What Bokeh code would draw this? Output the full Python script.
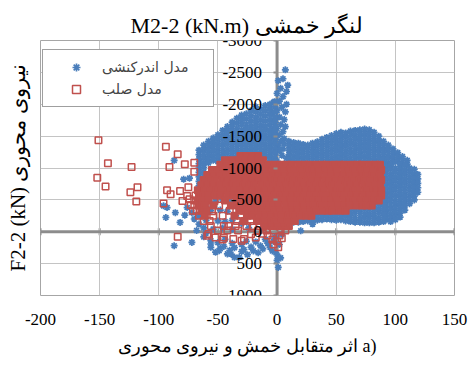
import math
from bokeh.plotting import figure
from bokeh.models import Range1d, Span, Title, Legend, LegendItem, FixedTicker, LinearAxis
from bokeh.embed import file_html
from bokeh.resources import INLINE

# ---- axis ticks -------------------------------------------------------------
x_ticks = [-200, -150, -100, -50, 0, 50, 100, 150]
x_tick_labels = ["-200", "-150", "-100", "-50", "0", "50", "100", "150"]
y_ticks = [-3000, -2500, -2000, -1500, -1000, -500, 0, 500, 1000]
y_tick_labels = ["-3000", "-2500", "-2000", "-1500", "-1000", "-500", "0", "500", "1000"]

# ---- interaction model (M2-2, F2-2) ---------------------------------------
# narrow spike of high axial force near M = 0
blue_spike = [(7, -2540), (5, -2400), (1, -2370), (9, -2300), (3, -2250), (8, -2200),
              (0, -2170), (5, -2120), (2, -2050), (8, -2000), (-3, -2030), (4, -1950),
              (0, -1900), (7, -1880), (-4, -1860), (2, -1800), (6, -1760), (-2, -1740),
              (3, -1680), (7, -1650), (0, -1620), (-4, -1600), (5, -1570), (2, -1520),
              (-1, -1480), (6, -1460), (3, -1420), (1, -1350), (5, -1300), (-1, -1250),
              (4, -1200), (8, -1150), (0, -1110), (6, -1380), (2, -1280)]

# columns (M, [F ...]) of the negative-moment upper lobe
blue_upper_left_cols = [
    (-66, [-1280, -1210, -1140, -1070, -1000, -930, -860, -790, -720]),
    (-62, [-1360, -1290, -1220, -1150, -1080, -1010, -940, -870, -800, -730]),
    (-58, [-1420, -1350, -1280, -1210, -1140, -1080]),
    (-54, [-1470, -1400, -1330, -1260, -1190, -1120]),
    (-50, [-1520, -1450, -1380, -1310, -1240, -1170, -1100]),
    (-46, [-1590, -1520, -1450, -1380, -1310, -1240, -1170, -1110]),
    (-42, [-1650, -1580, -1510, -1440, -1370, -1300, -1230, -1160]),
    (-38, [-1720, -1650, -1580, -1510, -1440, -1370, -1300, -1230, -1160]),
    (-34, [-1780, -1700, -1620, -1550, -1480, -1410, -1340, -1270, -1200]),
    (-30, [-1830, -1750, -1670, -1590, -1520, -1450, -1380, -1310, -1240, -1180]),
    (-26, [-1850, -1770, -1690, -1610, -1540, -1470, -1400, -1330, -1260, -1200]),
    (-22, [-1900, -1820, -1740, -1660, -1590, -1520, -1450, -1380, -1310, -1240]),
    (-18, [-1960, -1880, -1800, -1720, -1640, -1570, -1500, -1430, -1360, -1290, -1230]),
    (-14, [-1920, -1840, -1760, -1680, -1610, -1540, -1470, -1400, -1330, -1260, -1200]),
    (-10, [-1980, -1900, -1820, -1740, -1660, -1590, -1520, -1450, -1380, -1310, -1240,
           -1170]),
    (-6, [-2000, -1920, -1840, -1760, -1680, -1600, -1530, -1460, -1390, -1320, -1250,
          -1180, -1120]),
    (-2, [-2040, -1960, -1880, -1800, -1720, -1650, -1580, -1510, -1440, -1370, -1300,
          -1230, -1160, -1100]),
]

# columns of the positive-moment upper band
blue_upper_right_cols = [
    (10, [-1420, -1350, -1280, -1210, -1140, -1080]),
    (14, [-1400, -1330, -1260, -1190, -1120]),
    (18, [-1390, -1320, -1250, -1180, -1110]),
    (22, [-1370, -1300, -1230, -1160, -1090]),
    (26, [-1360, -1290, -1220, -1150, -1080]),
    (30, [-1390, -1320, -1250, -1180, -1110]),
    (34, [-1410, -1340, -1270, -1200, -1130, -1070]),
    (38, [-1450, -1380, -1310, -1240, -1170, -1100]),
    (42, [-1480, -1410, -1340, -1270, -1200, -1130, -1070]),
    (46, [-1510, -1440, -1370, -1300, -1230, -1160, -1090]),
    (50, [-1540, -1470, -1400, -1330, -1260, -1190, -1120]),
    (54, [-1560, -1490, -1420, -1350, -1280, -1210, -1140, -1080]),
    (58, [-1550, -1480, -1410, -1340, -1270, -1200, -1130, -1070]),
    (62, [-1580, -1510, -1440, -1370, -1300, -1230, -1160, -1090]),
    (66, [-1590, -1520, -1450, -1380, -1310, -1240, -1170, -1100]),
    (70, [-1600, -1530, -1460, -1390, -1320, -1250, -1180, -1110]),
    (74, [-1610, -1540, -1470, -1400, -1330, -1260, -1190, -1120]),
    (78, [-1600, -1530, -1460, -1390, -1320, -1250, -1180, -1110]),
    (82, [-1560, -1490, -1420, -1350, -1280, -1210, -1140, -1080]),
    (86, [-1500, -1430, -1360, -1290, -1220, -1150, -1080]),
    (90, [-1420, -1350, -1280, -1210, -1140, -1070]),
    (94, [-1360, -1290, -1220, -1150, -1080]),
    (98, [-1300, -1230, -1160, -1090]),
    (102, [-1240, -1170, -1100]),
    (106, [-1180, -1110]),
    (110, [-1120, -1060]),
]

# columns of the right-hand edge
blue_right_cols = [
    (92, [-1030, -960, -890, -820, -750, -680, -610, -540, -470, -400, -330, -260, -190]),
    (96, [-1050, -980, -910, -840, -770, -700, -630, -560, -490, -420, -350, -280, -210,
          -160]),
    (100, [-1000, -930, -860, -790, -720, -650, -580, -510, -440, -370, -300, -230, -190]),
    (104, [-1060, -990, -920, -850, -780, -710, -640, -570, -500, -430, -360, -290, -230]),
    (108, [-1040, -970, -900, -830, -760, -690, -620, -550, -480, -410, -340]),
    (112, [-1000, -930, -860, -790, -720, -650, -580, -510, -440]),
    (116, [-980, -910, -840, -770, -700, -630, -560, -500]),
    (119, [-900, -830, -760, -690, -620]),
]

# columns of the low-axial-force strip under the rigid cloud
blue_lower_cols = [
    (14, [-150, -210]), (18, [-150, -220]), (22, [-160, -230]), (26, [-170, -240]),
    (30, [-170, -240, -300]), (34, [-180, -250, -310]), (38, [-190, -260, -320]),
    (42, [-200, -270, -330]), (46, [-190, -260, -330, -390]),
    (50, [-180, -250, -320, -390]), (54, [-190, -260, -330, -400]),
    (58, [-170, -240, -310, -380, -440]), (62, [-160, -230, -300, -370, -440]),
    (66, [-150, -220, -290, -360, -430, -490]), (70, [-150, -220, -290, -360, -430, -500]),
    (74, [-140, -210, -280, -350, -420, -490]),
    (78, [-140, -210, -280, -350, -420, -490, -550]),
    (82, [-140, -210, -280, -350, -420, -490, -560]),
    (86, [-150, -220, -290, -360, -430, -500, -570]),
    (90, [-160, -230, -300, -370, -440, -510, -580]),
]

# tension side and scattered points
blue_lower_left = [(-56, 140), (-48, 260), (-39, 350), (-32, 400), (-25, 360), (-20, 300),
                   (-14, 220), (-8, 180), (-4, 300), (-56, 192), (-56, 245), (-49, 297),
                   (-42, 348), (-36, 401), (-45, 230), (-36, 250), (-30, 310), (-72, 167),
                   (-87, 219), (-62, 80), (-50, 170), (-44, 120), (-38, 180), (-30, 200),
                   (-26, 150), (-22, 240), (-16, 330), (-12, 270), (-10, 120), (-6, 240),
                   (-28, 280), (-40, 290), (-52, 320), (-18, 160), (-60, 20), (-2, 80),
                   (0, 450), (1, 560), (0.5, 380), (3, 410), (-1, 330), (2, 200), (4, 40),
                   (-3, 150), (20, -15), (30, -120)]
blue_left_mid = [(-87, -1120), (-79, -824), (-74, -840), (-96, -406), (-93, -380),
                 (-94, -224), (-82, -146), (-76, -380), (-72, -300), (-66, -250),
                 (-64, -420), (-60, -180), (-58, -320), (-66, -120), (-70, -200),
                 (-78, -260), (-86, -300), (-62, -60), (-54, -40), (-46, -60),
                 (-38, -40), (-68, -20), (-52, -480), (-46, -500), (-40, -470),
                 (-56, -330), (-48, -340), (-42, -320), (-50, -170), (-44, -160),
                 (-38, -180), (-60, -400), (-35, -250), (-30, -130), (-24, -60),
                 (-54, -600), (-48, -640), (6, -520), (8, -440), (4, -600)]

# ---- rigid model (M2-2, F2-2) ----------------------------------------------
# rows (F, [M ...]) of the dense cloud, where the squares pile up solid
red_rows = [
    (-1190, [-31, -26, -21, -16]),
    (-1120, [-44, -38, -33, -28, -22, -17, -12]),
    (-1050, [-48, -43, -37, -32, -28, -22, -17, -13, -7, -2, 3, 8, 12, 18, 23, 27, 33, 38,
             42, 48, 53, 57, 63, 68, 72, 78, 83, 87]),
    (-970, [-55, -50, -45, -40, -34, -30, -25, -19, -15, -10, -4, 0, 5, 11, 15, 20, 26, 30,
            35, 41, 45, 50, 56, 60, 65, 71, 75, 80, 86, 88]),
    (-890, [-59, -54, -49, -44, -39, -33, -29, -24, -18, -14, -9, -3, 1, 6, 12, 16, 21, 27,
            31, 36, 42, 46, 51, 57, 61, 66, 72, 76, 81, 87]),
    (-810, [-62, -57, -52, -46, -42, -36, -31, -27, -21, -16, -11, -5, -1, 4, 10, 14, 19, 25,
            29, 34, 40, 44, 49, 55, 59, 64, 70, 74, 79, 85, 88]),
    (-730, [-64, -59, -54, -49, -44, -38, -34, -28, -23, -19, -13, -8, -3, 2, 7, 13, 17, 22,
            28, 32, 37, 43, 47, 52, 58, 62, 67, 73, 77, 82, 87]),
    (-650, [-67, -61, -56, -51, -47, -41, -36, -31, -26, -20, -16, -10, -6, 0, 5, 9, 15, 20,
            24, 30, 35, 39, 45, 50, 54, 60, 65, 69, 75, 80, 84, 88]),
    (-570, [-66, -62, -58, -52, -48, -42, -37, -33, -27, -23, -17, -12, -8, -2, 3, 7, 13, 17,
            23, 28, 32, 38, 42, 48, 53, 57, 63, 67, 73, 78, 82, 88]),
    (-490, [-67, -63, -58, -44, -34, -29, -25, -19, -14, -10, -4, 1, 5, 11, 16,
            20, 26, 31, 35, 41, 46, 50, 56, 61, 65, 71, 76, 81, 86]),
    (-410, [-66, -61, -54, -39, -33, -29, -23, -18, -14, -8, -3, 1, 7, 12, 16,
            22, 27, 31, 37, 42, 46, 52, 57, 61, 67, 72, 76, 80]),
    (-330, [-64, -60, -32, -28, -22, -17, -13, -7, -2, 2, 8, 13, 17,
            23, 28, 32, 38, 43, 47, 53, 58]),
    (-250, [-61, -36, -25, -21, -15, -10, -6, 0, 4, 10, 14, 20, 25, 29]),
    (-170, [-28, -17, -11, -6, -2, 4, 9, 15]),
    (-90, [-11, -5, 0, 5, 10]),
]
# looser squares around the edges of the cloud
red_loose = [(-70, -490), (-53, -480), (-70, -410), (-49, -410), (-68, -330), (-55, -320),
             (-40, -330), (-66, -250), (-54, -250), (-46, -250), (-31, -250), (-62, -170),
             (-57, -170), (-34, -170), (-22, -170), (-56, -90), (-45, -90), (-41, -90),
             (-35, -90), (-26, -90), (-20, -90), (-15, -90), (-50, -20), (-42, -20),
             (-33, -20), (-16, -20), (-9, -20), (-3, -20), (3, -20), (7, -20), (-69, -570)]
red_scatter = [(-151, -1437), (-143, -1074), (-123, -1016), (-152, -849), (-145, -709),
               (-124, -620), (-118, -699), (-119, -474), (-94, -1333), (-84, -1214),
               (-91, -1016), (-78, -1058), (-70, -1083), (-70, -942), (-93, -652),
               (-96, -443), (-90, -589), (-82, -641), (-80, -484), (-74, -510),
               (-71, -328), (-76, -560), (-75, -700), (-73, -420), (-84, 78)]
red_low = [(-59, 62), (-52, 89), (-45, 89), (-37, 114), (-28, 114), (-18, 89), (-58, 36),
           (-46, 120), (-30, 141), (-8, 60), (1, 245), (0, 150), (-3, 200), (4, 100),
           (-12, 30), (-22, 40), (2, 60), (-4, 120)]


def from_cols(cols):
    ms, fs = [], []
    for m, f_list in cols:
        for f in f_list:
            ms.append(m)
            fs.append(f)
    return ms, fs


def from_rows(rows):
    ms, fs = [], []
    for f, m_list in rows:
        for m in m_list:
            ms.append(m)
            fs.append(f)
    return ms, fs


def from_pairs(pairs):
    return [m for m, _ in pairs], [f for _, f in pairs]


blue_m, blue_f = [], []
for part in (from_pairs(blue_spike), from_cols(blue_upper_left_cols),
             from_cols(blue_upper_right_cols), from_cols(blue_right_cols),
             from_cols(blue_lower_cols), from_pairs(blue_lower_left),
             from_pairs(blue_left_mid)):
    blue_m += part[0]
    blue_f += part[1]

red_core_m, red_core_f = from_rows(red_rows)
red_m, red_f = [], []
for part in (from_pairs(red_loose), from_pairs(red_scatter), from_pairs(red_low)):
    red_m += part[0]
    red_f += part[1]

BLUE = "#4a7ebb"
RED = "#c0504d"
AXIS_GREY = "#8c8c8c"
GRID_GREY = "#c4c4c4"
SERIF = "Liberation Serif"
PERSIAN = "DejaVu Sans"

p = figure(width=472, height=370, x_range=Range1d(-200, 150), y_range=Range1d(1000, -3000),
           output_backend="svg", toolbar_location=None,
           min_border_left=40, min_border_right=18, min_border_top=40, min_border_bottom=75)
p.background_fill_color = "white"
p.border_fill_color = "white"
p.outline_line_color = "#a6a6a6"

# chart title above the frame
p.title.text = "M2-2 (kN.m) لنگر خمشی"
p.title.align = "left"
p.title.offset = 90
p.title.standoff = 6
p.title.text_font = SERIF
p.title.text_font_size = "22px"
p.title.text_font_style = "normal"
p.title.text_color = "black"

# grid
p.xgrid.ticker = FixedTicker(ticks=x_ticks)
p.ygrid.ticker = FixedTicker(ticks=y_ticks)
for g in (p.xgrid, p.ygrid):
    g.grid_line_color = GRID_GREY
    g.grid_line_width = 1

# axis lines through the origin, under the data
p.add_layout(Span(location=0, dimension="width", line_color=AXIS_GREY, line_width=3, level="underlay"))
p.add_layout(Span(location=0, dimension="height", line_color=AXIS_GREY, line_width=3, level="underlay"))
p.scatter(x_ticks, [0] * len(x_ticks), marker="dash", angle=math.pi / 2, size=7,
          line_color=AXIS_GREY, line_width=2, level="underlay")

# x labels along the bottom of the frame
xa = p.xaxis[0]
xa.ticker = FixedTicker(ticks=x_ticks)
xa.major_label_overrides = dict(zip(x_ticks, x_tick_labels))
xa.axis_line_color = None
xa.major_tick_line_color = None
xa.minor_tick_line_color = None
xa.major_label_standoff = 12
xa.major_label_text_font = SERIF
xa.major_label_text_font_size = "17px"
xa.major_label_text_color = "black"

# y labels beside the vertical axis at M = 0
ya = p.yaxis[0]
ya.fixed_location = 0
ya.ticker = FixedTicker(ticks=y_ticks)
ya.major_label_overrides = dict(zip(y_ticks, y_tick_labels))
ya.axis_line_color = None
ya.major_tick_line_color = AXIS_GREY
ya.major_tick_line_width = 2
ya.major_tick_out = 4
ya.major_tick_in = 0
ya.minor_tick_line_color = None
ya.major_label_standoff = 11
ya.major_label_text_font = SERIF
ya.major_label_text_font_size = "17px"
ya.major_label_text_color = "black"

# vertical axis title, carried by a bare axis at the left edge of the frame
title_axis = LinearAxis(ticker=FixedTicker(ticks=[]), axis_label="F2-2 (kN) نیروی محوری",
                        axis_label_standoff=11, axis_label_text_font=SERIF,
                        axis_label_text_font_size="21px", axis_label_text_font_style="normal",
                        axis_label_text_color="black", axis_line_color=None,
                        major_tick_line_color=None, minor_tick_line_color=None,
                        major_tick_out=0, major_label_standoff=0,
                        major_label_text_font_size="0px")
p.add_layout(title_axis, "left")

# caption under the chart
p.add_layout(Title(text="اثر متقابل خمش و نیروی محوری a)", align="left", offset=77,
                   standoff=13, text_font=SERIF, text_font_size="18px",
                   text_font_style="normal", text_color="black"), "below")

# data
rb = p.scatter(blue_m, blue_f, marker="asterisk", size=7, line_color=BLUE, line_width=1.7)
p.scatter(red_core_m, red_core_f, marker="square", size=6.5, line_color=RED,
          fill_color=RED, line_width=1.5)
rr = p.scatter(red_m, red_f, marker="square", size=6.5, line_color=RED, fill_color=None,
               line_width=1.5)

legend = Legend(items=[LegendItem(label="مدل اندرکنشی", renderers=[rb]),
                       LegendItem(label="مدل صلب", renderers=[rr])],
                location=(2, 188), margin=0, padding=7, spacing=2,
                glyph_width=52, glyph_height=20, label_height=20, label_width=104,
                label_standoff=0, label_text_font=PERSIAN, label_text_font_size="14px",
                border_line_color="#404040", border_line_width=1,
                background_fill_color="white", background_fill_alpha=1.0)
p.add_layout(legend)

open("out.html", "w").write(file_html(p, INLINE))
